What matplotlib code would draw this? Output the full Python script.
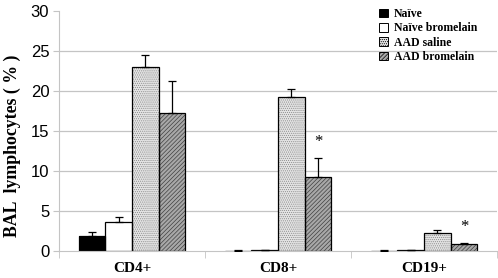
import numpy as np
import matplotlib.pyplot as plt

categories = ['CD4+', 'CD8+', 'CD19+']
series = ['Naïve', 'Naïve bromelain', 'AAD saline', 'AAD bromelain']
naive = [1.9, 0.05, 0.05]
naive_err = [0.5, 0.05, 0.05]
naive_brom = [3.65, 0.1, 0.1]
naive_brom_err = [0.65, 0.0, 0.0]
aad_saline = [22.95, 19.3, 2.25]
aad_saline_err = [1.5, 1.0, 0.35]
aad_brom = [17.3, 9.2, 0.83]
aad_brom_err = [4.0, 2.4, 0.21]
signif = [False, True, True]  # asterisk over AAD bromelain

values = [naive, naive_brom, aad_saline, aad_brom]
errors = [naive_err, naive_brom_err, aad_saline_err, aad_brom_err]
faces = ['black', 'white', '#e4e4e4', '#a8a8a8']
hatches = [None, None, '........', '////////']
hatch_cols = ['black', 'black', '#8a8a8a', '#404040']

serif = ['Liberation Serif', 'DejaVu Serif']
sans = ['Liberation Sans', 'DejaVu Sans']

fig = plt.figure(figsize=(4.98, 2.78), dpi=100)
ax = fig.add_axes([59 / 498, 1 - 251 / 278, 438 / 498, 240 / 278])

x = np.arange(len(categories))
w = 0.183
grid_c = '#c4c4c4'
for yv in [5, 10, 15, 20, 25]:
    ax.axhline(yv, color=grid_c, lw=0.9, zorder=0)

plt.rcParams['hatch.linewidth'] = 0.5
handles = []
for i, (vals, errs) in enumerate(zip(values, errors)):
    pos = x + (i - 1.5) * w
    # fill + hatch in grey, outline in black on top
    ax.bar(pos, vals, w, color=faces[i], edgecolor=hatch_cols[i], linewidth=0,
           hatch=hatches[i], zorder=2)
    ax.bar(pos, vals, w, fill=False, edgecolor='black', linewidth=0.9, zorder=2.5)
    ax.errorbar(pos, vals, yerr=[np.zeros(len(vals)), errs], fmt='none',
                ecolor='black', elinewidth=0.9, capsize=3.2, capthick=0.9, zorder=3)
    handles.append(plt.Rectangle((0, 0), 1, 1, facecolor=faces[i], edgecolor='black',
                                 linewidth=0.7, hatch=hatches[i]))

for j, s in enumerate(signif):
    if s:
        px = x[j] + 1.5 * w
        top = aad_brom[j] + aad_brom_err[j]
        ax.text(px, top + 1.0, '*', ha='center', va='bottom', fontsize=12,
                family=serif)

ax.set_xlim(-0.5, 2.5)
ax.set_ylim(0, 30)
ax.set_yticks(range(0, 31, 5))
ax.set_yticklabels([str(v) for v in range(0, 31, 5)], family=sans, fontsize=12)
ax.set_xticks(x)
ax.set_xticklabels(categories, family=serif, fontweight='bold', fontsize=11)
ax.set_xticks([-0.5, 0.5, 1.5, 2.5], minor=True)
ax.tick_params(axis='x', which='major', length=0, pad=8)
ax.tick_params(axis='x', which='minor', length=5, color=grid_c, direction='out')
ax.tick_params(axis='y', length=4, color=grid_c, direction='out', pad=3)

for sp in ['top', 'right']:
    ax.spines[sp].set_visible(False)
ax.spines['left'].set_color(grid_c)
ax.spines['bottom'].set_color(grid_c)

ax.set_ylabel('BAL  lymphocytes ( % )', family=serif, fontweight='bold', fontsize=12.8)
ax.yaxis.set_label_coords(-0.087, 0.438)

fig.legend(handles, series, loc='upper left', bbox_to_anchor=(379 / 498, 1 - 8 / 278),
           frameon=False, borderpad=0, borderaxespad=0,
           handlelength=0.75, handleheight=0.75, handletextpad=0.5,
           labelspacing=0.2, prop={'family': serif, 'weight': 'bold', 'size': 8.5})

fig.savefig('out.png', dpi=100)
